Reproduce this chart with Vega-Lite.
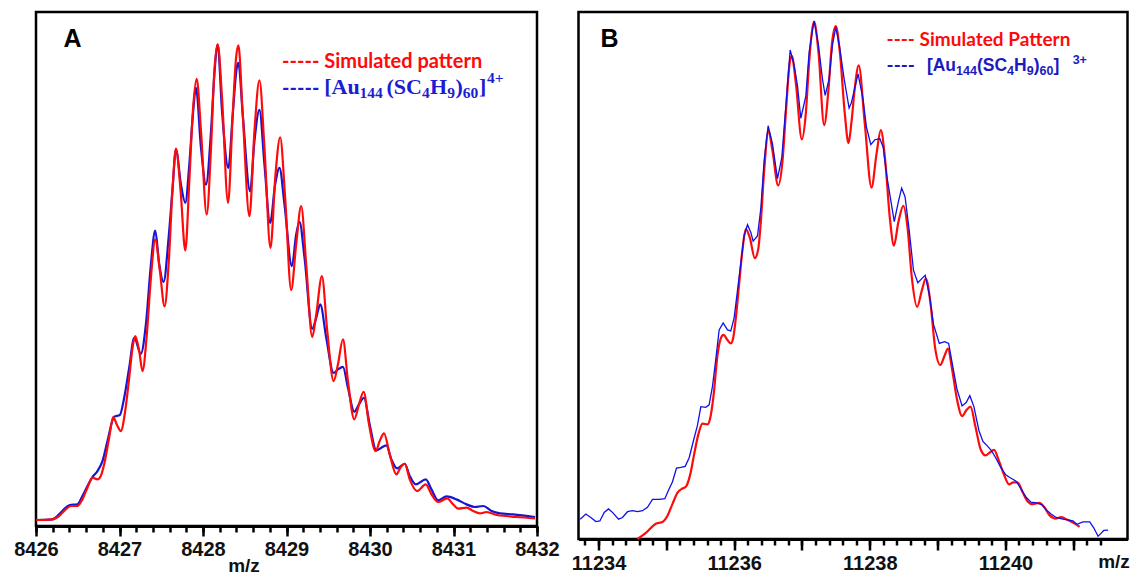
{
  "$schema": "https://vega.github.io/schema/vega-lite/v6.json",
  "background": "white",
  "padding": {"left": 12, "top": 10, "right": 2, "bottom": 2},
  "bounds": "flush",
  "spacing": 41.5,
  "config": {
    "view": {"stroke": "#000000", "strokeWidth": 2.5},
    "axis": {
      "labelFont": "Liberation Sans", "labelFontWeight": "bold", "labelFontSize": 20, "labelColor": "#111111",
      "domainColor": "#000000", "domainWidth": 3, "tickColor": "#000000", "tickWidth": 2.5, "grid": false,
      "titleFont": "Liberation Sans", "titleFontWeight": "bold", "titleFontSize": 19, "titleColor": "#111111",
      "labelFlush": false, "labelOverlap": false
    }
  },
  "datasets": {
    "A_sim": [
      {"mz":8426.0,"i":0},{"mz":8426.196,"i":0.14},{"mz":8426.276,"i":0.84},{"mz":8426.356,"i":2.24},{"mz":8426.416,"i":2.94},{"mz":8426.496,"i":2.94},{"mz":8426.556,"i":4.34},{"mz":8426.616,"i":6.79},{"mz":8426.676,"i":8.89},{"mz":8426.736,"i":8.54},{"mz":8426.776,"i":9.24},{"mz":8426.816,"i":11.69},{"mz":8426.876,"i":17.3},{"mz":8426.924,"i":21.64},{"mz":8426.976,"i":19.75},{"mz":8427.016,"i":18.7},{"mz":8427.068,"i":22.9},{"mz":8427.116,"i":29.9},{"mz":8427.156,"i":36.2},{"mz":8427.188,"i":38.66},{"mz":8427.236,"i":35.5},{"mz":8427.276,"i":31.3},{"mz":8427.324,"i":38.31},{"mz":8427.376,"i":50.91},{"mz":8427.428,"i":58.96},{"mz":8427.484,"i":52.31},{"mz":8427.54,"i":44.89},{"mz":8427.588,"i":53.71},{"mz":8427.636,"i":69.82},{"mz":8427.676,"i":78.08},{"mz":8427.732,"i":69.12},{"mz":8427.788,"i":56.65},{"mz":8427.836,"i":71.22},{"mz":8427.876,"i":85.22},{"mz":8427.924,"i":92.72},{"mz":8427.976,"i":81.72},{"mz":8428.044,"i":64.22},{"mz":8428.096,"i":78.22},{"mz":8428.136,"i":94.33},{"mz":8428.176,"i":100.0},{"mz":8428.228,"i":88.73},{"mz":8428.3,"i":66.67},{"mz":8428.356,"i":85.22},{"mz":8428.396,"i":97.13},{"mz":8428.424,"i":99.79},{"mz":8428.476,"i":85.22},{"mz":8428.556,"i":63.87},{"mz":8428.616,"i":81.72},{"mz":8428.676,"i":92.44},{"mz":8428.736,"i":78.22},{"mz":8428.808,"i":57.21},{"mz":8428.868,"i":72.62},{"mz":8428.924,"i":80.46},{"mz":8428.984,"i":67.72},{"mz":8429.056,"i":48.32},{"mz":8429.116,"i":58.0},{"mz":8429.176,"i":65.97},{"mz":8429.236,"i":53.71},{"mz":8429.308,"i":38.45},{"mz":8429.356,"i":43.21},{"mz":8429.424,"i":51.26},{"mz":8429.488,"i":39.71},{"mz":8429.564,"i":29.2},{"mz":8429.616,"i":32.7},{"mz":8429.676,"i":37.96},{"mz":8429.736,"i":29.2},{"mz":8429.812,"i":21.15},{"mz":8429.868,"i":24.3},{"mz":8429.924,"i":26.96},{"mz":8429.988,"i":20.1},{"mz":8430.068,"i":14.5},{"mz":8430.116,"i":16.6},{"mz":8430.168,"i":18.21},{"mz":8430.236,"i":13.8},{"mz":8430.316,"i":9.59},{"mz":8430.364,"i":10.99},{"mz":8430.416,"i":11.83},{"mz":8430.476,"i":8.54},{"mz":8430.564,"i":6.09},{"mz":8430.668,"i":7.49},{"mz":8430.736,"i":5.39},{"mz":8430.816,"i":3.78},{"mz":8430.924,"i":4.55},{"mz":8430.996,"i":3.29},{"mz":8431.056,"i":2.38},{"mz":8431.156,"i":2.59},{"mz":8431.236,"i":1.89},{"mz":8431.316,"i":1.4},{"mz":8431.396,"i":1.68},{"mz":8431.516,"i":1.05},{"mz":8431.636,"i":0.84},{"mz":8431.756,"i":0.63},{"mz":8431.976,"i":0.35}
    ],
    "A_exp": [
      {"mz":8426.0,"i":0},{"mz":8426.196,"i":0.14},{"mz":8426.276,"i":1.19},{"mz":8426.356,"i":2.59},{"mz":8426.404,"i":3.15},{"mz":8426.496,"i":3.29},{"mz":8426.556,"i":5.04},{"mz":8426.616,"i":7.14},{"mz":8426.676,"i":9.03},{"mz":8426.736,"i":10.29},{"mz":8426.796,"i":12.39},{"mz":8426.856,"i":16.6},{"mz":8426.936,"i":21.71},{"mz":8427.004,"i":22.06},{"mz":8427.056,"i":25.7},{"mz":8427.116,"i":32.0},{"mz":8427.176,"i":38.31},{"mz":8427.256,"i":34.94},{"mz":8427.316,"i":41.11},{"mz":8427.376,"i":53.71},{"mz":8427.428,"i":60.85},{"mz":8427.476,"i":53.71},{"mz":8427.528,"i":50.07},{"mz":8427.588,"i":59.31},{"mz":8427.636,"i":69.82},{"mz":8427.676,"i":77.87},{"mz":8427.736,"i":70.52},{"mz":8427.788,"i":66.67},{"mz":8427.836,"i":74.72},{"mz":8427.876,"i":84.52},{"mz":8427.916,"i":90.83},{"mz":8427.976,"i":78.22},{"mz":8428.036,"i":70.52},{"mz":8428.096,"i":81.72},{"mz":8428.136,"i":93.63},{"mz":8428.176,"i":99.93},{"mz":8428.228,"i":85.92},{"mz":8428.304,"i":74.02},{"mz":8428.356,"i":85.22},{"mz":8428.404,"i":95.03},{"mz":8428.424,"i":96.08},{"mz":8428.476,"i":85.22},{"mz":8428.564,"i":69.12},{"mz":8428.616,"i":79.62},{"mz":8428.676,"i":86.2},{"mz":8428.736,"i":74.72},{"mz":8428.804,"i":62.46},{"mz":8428.864,"i":70.52},{"mz":8428.916,"i":74.02},{"mz":8428.976,"i":66.32},{"mz":8429.064,"i":53.36},{"mz":8429.116,"i":60.01},{"mz":8429.156,"i":62.68},{"mz":8429.216,"i":55.11},{"mz":8429.308,"i":40.2},{"mz":8429.356,"i":42.51},{"mz":8429.404,"i":45.31},{"mz":8429.476,"i":38.31},{"mz":8429.564,"i":30.95},{"mz":8429.616,"i":31.65},{"mz":8429.676,"i":32.21},{"mz":8429.736,"i":27.8},{"mz":8429.812,"i":22.76},{"mz":8429.868,"i":24.3},{"mz":8429.928,"i":25.7},{"mz":8429.996,"i":20.1},{"mz":8430.076,"i":14.64},{"mz":8430.136,"i":15.2},{"mz":8430.196,"i":15.69},{"mz":8430.256,"i":12.75},{"mz":8430.324,"i":10.85},{"mz":8430.416,"i":11.83},{"mz":8430.476,"i":9.24},{"mz":8430.548,"i":7.49},{"mz":8430.668,"i":8.54},{"mz":8430.736,"i":6.44},{"mz":8430.816,"i":4.13},{"mz":8430.916,"i":4.97},{"mz":8431.036,"i":4.34},{"mz":8431.156,"i":3.29},{"mz":8431.256,"i":2.73},{"mz":8431.356,"i":2.94},{"mz":8431.456,"i":1.89},{"mz":8431.556,"i":1.4},{"mz":8431.716,"i":1.19},{"mz":8431.976,"i":0.63}
    ],
    "B_sim": [
      {"mz":11234.575,"i":0},{"mz":11234.698,"i":1.19},{"mz":11234.845,"i":2.96},{"mz":11234.943,"i":3.29},{"mz":11235.017,"i":4.48},{"mz":11235.091,"i":6.79},{"mz":11235.165,"i":8.96},{"mz":11235.238,"i":9.75},{"mz":11235.287,"i":10.08},{"mz":11235.351,"i":12.38},{"mz":11235.41,"i":16.34},{"mz":11235.474,"i":20.29},{"mz":11235.533,"i":22.27},{"mz":11235.607,"i":22.13},{"mz":11235.646,"i":23.25},{"mz":11235.695,"i":27.54},{"mz":11235.754,"i":35.44},{"mz":11235.803,"i":38.74},{"mz":11235.843,"i":39.39},{"mz":11235.902,"i":38.41},{"mz":11235.951,"i":37.75},{"mz":11235.985,"i":38.74},{"mz":11236.025,"i":42.69},{"mz":11236.074,"i":49.28},{"mz":11236.123,"i":55.86},{"mz":11236.172,"i":59.82},{"mz":11236.231,"i":58.17},{"mz":11236.305,"i":54.22},{"mz":11236.354,"i":55.86},{"mz":11236.393,"i":61.13},{"mz":11236.442,"i":71.01},{"mz":11236.506,"i":78.79},{"mz":11236.565,"i":74.97},{"mz":11236.649,"i":68.25},{"mz":11236.713,"i":72.99},{"mz":11236.762,"i":82.21},{"mz":11236.821,"i":92.09},{"mz":11236.85,"i":93.28},{"mz":11236.909,"i":88.14},{"mz":11236.998,"i":77.14},{"mz":11237.057,"i":82.21},{"mz":11237.106,"i":92.09},{"mz":11237.179,"i":99.87},{"mz":11237.243,"i":94.07},{"mz":11237.327,"i":79.91},{"mz":11237.391,"i":86.82},{"mz":11237.44,"i":95.39},{"mz":11237.499,"i":99.01},{"mz":11237.558,"i":94.07},{"mz":11237.631,"i":82.21},{"mz":11237.686,"i":76.42},{"mz":11237.728,"i":80.24},{"mz":11237.777,"i":86.82},{"mz":11237.837,"i":91.44},{"mz":11237.926,"i":80.24},{"mz":11238.025,"i":67.85},{"mz":11238.099,"i":74.31},{"mz":11238.163,"i":78.92},{"mz":11238.223,"i":73.65},{"mz":11238.297,"i":61.79},{"mz":11238.356,"i":56.65},{"mz":11238.421,"i":61.13},{"mz":11238.495,"i":64.3},{"mz":11238.559,"i":59.82},{"mz":11238.619,"i":50.59},{"mz":11238.698,"i":44.8},{"mz":11238.767,"i":47.96},{"mz":11238.827,"i":50.26},{"mz":11238.891,"i":45.98},{"mz":11238.965,"i":36.76},{"mz":11239.04,"i":33.6},{"mz":11239.104,"i":35.44},{"mz":11239.153,"i":36.76},{"mz":11239.213,"i":32.81},{"mz":11239.287,"i":26.88},{"mz":11239.361,"i":23.72},{"mz":11239.426,"i":24.9},{"mz":11239.485,"i":25.56},{"mz":11239.559,"i":21.61},{"mz":11239.634,"i":17.33},{"mz":11239.708,"i":16.14},{"mz":11239.767,"i":16.67},{"mz":11239.832,"i":17.19},{"mz":11239.906,"i":15.02},{"mz":11239.98,"i":12.38},{"mz":11240.054,"i":10.54},{"mz":11240.114,"i":10.94},{"mz":11240.178,"i":10.94},{"mz":11240.252,"i":9.09},{"mz":11240.327,"i":7.25},{"mz":11240.401,"i":6.72},{"mz":11240.5,"i":6.98},{"mz":11240.574,"i":6.13},{"mz":11240.649,"i":4.61},{"mz":11240.748,"i":3.95},{"mz":11240.822,"i":4.22},{"mz":11240.896,"i":3.82},{"mz":11240.995,"i":3.16},{"mz":11241.094,"i":2.37}
    ],
    "B_exp": [
      {"mz":11233.73,"i":3.82},{"mz":11233.813,"i":4.81},{"mz":11233.887,"i":4.15},{"mz":11233.961,"i":3.36},{"mz":11234.02,"i":3.49},{"mz":11234.084,"i":5.14},{"mz":11234.147,"i":5.8},{"mz":11234.206,"i":5.14},{"mz":11234.295,"i":3.82},{"mz":11234.354,"i":4.15},{"mz":11234.428,"i":5.27},{"mz":11234.501,"i":5.47},{"mz":11234.575,"i":5.27},{"mz":11234.649,"i":5.47},{"mz":11234.722,"i":6.13},{"mz":11234.796,"i":7.64},{"mz":11234.894,"i":7.64},{"mz":11234.978,"i":7.77},{"mz":11235.032,"i":9.42},{"mz":11235.091,"i":11.07},{"mz":11235.15,"i":13.7},{"mz":11235.214,"i":13.83},{"mz":11235.278,"i":14.03},{"mz":11235.337,"i":15.68},{"mz":11235.4,"i":18.97},{"mz":11235.459,"i":21.94},{"mz":11235.509,"i":25.56},{"mz":11235.582,"i":25.43},{"mz":11235.631,"i":25.89},{"mz":11235.681,"i":29.51},{"mz":11235.73,"i":34.78},{"mz":11235.779,"i":40.38},{"mz":11235.838,"i":41.7},{"mz":11235.902,"i":40.38},{"mz":11235.951,"i":40.18},{"mz":11236.0,"i":42.69},{"mz":11236.049,"i":47.96},{"mz":11236.098,"i":53.23},{"mz":11236.147,"i":58.5},{"mz":11236.197,"i":60.67},{"mz":11236.246,"i":59.16},{"mz":11236.28,"i":57.51},{"mz":11236.344,"i":58.5},{"mz":11236.393,"i":63.77},{"mz":11236.442,"i":72.99},{"mz":11236.501,"i":79.78},{"mz":11236.565,"i":76.28},{"mz":11236.639,"i":69.57},{"mz":11236.703,"i":73.65},{"mz":11236.762,"i":83.53},{"mz":11236.826,"i":94.4},{"mz":11236.885,"i":91.44},{"mz":11236.934,"i":87.48},{"mz":11236.983,"i":81.23},{"mz":11237.057,"i":85.51},{"mz":11237.106,"i":94.07},{"mz":11237.179,"i":100.0},{"mz":11237.243,"i":95.39},{"mz":11237.302,"i":88.8},{"mz":11237.342,"i":85.64},{"mz":11237.4,"i":88.8},{"mz":11237.45,"i":95.39},{"mz":11237.499,"i":98.81},{"mz":11237.558,"i":94.73},{"mz":11237.622,"i":88.8},{"mz":11237.695,"i":83.2},{"mz":11237.728,"i":84.19},{"mz":11237.827,"i":89.79},{"mz":11237.901,"i":84.85},{"mz":11237.95,"i":79.58},{"mz":11238.015,"i":76.15},{"mz":11238.074,"i":77.08},{"mz":11238.149,"i":77.27},{"mz":11238.198,"i":75.63},{"mz":11238.248,"i":70.36},{"mz":11238.297,"i":66.4},{"mz":11238.361,"i":61.26},{"mz":11238.421,"i":65.09},{"mz":11238.47,"i":67.72},{"mz":11238.52,"i":66.07},{"mz":11238.579,"i":59.82},{"mz":11238.644,"i":51.91},{"mz":11238.708,"i":49.47},{"mz":11238.767,"i":50.26},{"mz":11238.817,"i":50.92},{"mz":11238.876,"i":47.3},{"mz":11238.941,"i":41.37},{"mz":11239.025,"i":37.75},{"mz":11239.104,"i":38.08},{"mz":11239.163,"i":37.75},{"mz":11239.213,"i":34.12},{"mz":11239.287,"i":28.85},{"mz":11239.361,"i":25.69},{"mz":11239.421,"i":26.35},{"mz":11239.475,"i":27.67},{"mz":11239.535,"i":25.56},{"mz":11239.609,"i":20.95},{"mz":11239.668,"i":18.84},{"mz":11239.733,"i":17.98},{"mz":11239.797,"i":17.0},{"mz":11239.856,"i":15.68},{"mz":11239.931,"i":13.83},{"mz":11240.005,"i":12.38},{"mz":11240.064,"i":11.86},{"mz":11240.153,"i":11.2},{"mz":11240.228,"i":9.75},{"mz":11240.302,"i":8.1},{"mz":11240.376,"i":7.11},{"mz":11240.46,"i":6.98},{"mz":11240.54,"i":6.59},{"mz":11240.599,"i":5.67},{"mz":11240.673,"i":4.81},{"mz":11240.748,"i":4.15},{"mz":11240.847,"i":3.82},{"mz":11240.921,"i":3.69},{"mz":11240.995,"i":3.49},{"mz":11241.054,"i":2.83},{"mz":11241.144,"i":3.29},{"mz":11241.243,"i":3.29},{"mz":11241.302,"i":2.17},{"mz":11241.366,"i":0.53},{"mz":11241.416,"i":1.19},{"mz":11241.45,"i":1.65},{"mz":11241.515,"i":1.71}
    ]
  },
  "hconcat": [
    {
      "width": 501,
      "height": 514,
      "resolve": {"axis": {"x": "independent"}},
      "layer": [
        {
          "data": {"name": "A_exp"},
          "mark": {"type": "line", "color": "#1414d2", "strokeWidth": 2.2, "interpolate": "monotone"},
          "encoding": {
            "x": {"field": "mz", "type": "quantitative", "scale": {"domain": [8426, 8432], "nice": false, "zero": false},
              "axis": {"orient": "bottom", "values": [8426,8426.2,8426.4,8426.6,8426.8,8427,8427.2,8427.4,8427.6,8427.8,8428,8428.2,8428.4,8428.6,8428.8,8429,8429.2,8429.4,8429.6,8429.8,8430,8430.2,8430.4,8430.6,8430.8,8431,8431.2,8431.4,8431.6,8431.8,8432], "labels": false, "tickSize": 6, "title": null}},
            "y": {"field": "i", "type": "quantitative", "scale": {"domain": [-1.26, 106.79], "nice": false, "zero": false}, "axis": null}
          }
        },
        {
          "data": {"name": "A_sim"},
          "mark": {"type": "line", "color": "#ff0a0a", "strokeWidth": 2.2, "interpolate": "monotone"},
          "encoding": {
            "x": {"field": "mz", "type": "quantitative",
              "axis": {"orient": "bottom", "values": [8426,8427,8428,8429,8430,8431,8432], "format": "d", "tickSize": 10, "labelPadding": 3, "title": "m/z", "titleX": 207.5, "titleY": 39, "titleBaseline": "middle", "titleAlign": "center", "titleAnchor": null}},
            "y": {"field": "i", "type": "quantitative", "axis": null}
          }
        },
        {
          "data": {"values": [{}]},
          "mark": {"type": "text", "text": "A", "font": "Liberation Sans", "fontWeight": "bold", "fontSize": 25, "align": "center", "baseline": "middle", "color": "#000000"},
          "encoding": {"x": {"datum": 8426.437, "type": "quantitative", "axis": null}, "y": {"datum": 101.1, "type": "quantitative", "axis": null}}
        },
        {
          "data": {"values": [{}]},
          "mark": {"type": "text", "text": "----- Simulated pattern", "font": "Lato", "fontWeight": "bold", "fontSize": 20, "align": "left", "baseline": "middle", "color": "#ff0a0a"},
          "encoding": {"x": {"datum": 8428.947, "type": "quantitative", "axis": null}, "y": {"datum": 96.28, "type": "quantitative", "axis": null}}
        },
        {
          "data": {"values": [{}]},
          "mark": {"type": "text", "text": "-----", "font": "Lato", "fontWeight": "bold", "fontSize": 20, "align": "left", "baseline": "middle", "color": "#1c1cd4"},
          "encoding": {"x": {"datum": 8428.947, "type": "quantitative", "axis": null}, "y": {"datum": 90.66, "type": "quantitative", "axis": null}}
        },
        {
          "data": {"values": [{}]},
          "mark": {"type": "text", "text": "[Au", "font": "Liberation Serif", "fontWeight": "bold", "fontSize": 22, "align": "left", "baseline": "alphabetic", "color": "#1c1cd4"},
          "encoding": {"x": {"datum": 8429.4515, "type": "quantitative", "axis": null}, "y": {"datum": 89.49, "type": "quantitative", "axis": null}}
        },
        {
          "data": {"values": [{}]},
          "mark": {"type": "text", "text": "144", "font": "Liberation Serif", "fontWeight": "bold", "fontSize": 15.5, "align": "left", "baseline": "alphabetic", "color": "#1c1cd4"},
          "encoding": {"x": {"datum": 8429.8754, "type": "quantitative", "axis": null}, "y": {"datum": 88.78, "type": "quantitative", "axis": null}}
        },
        {
          "data": {"values": [{}]},
          "mark": {"type": "text", "text": "(SC", "font": "Liberation Serif", "fontWeight": "bold", "fontSize": 22, "align": "left", "baseline": "alphabetic", "color": "#1c1cd4"},
          "encoding": {"x": {"datum": 8430.1976, "type": "quantitative", "axis": null}, "y": {"datum": 89.49, "type": "quantitative", "axis": null}}
        },
        {
          "data": {"values": [{}]},
          "mark": {"type": "text", "text": "4", "font": "Liberation Serif", "fontWeight": "bold", "fontSize": 15.5, "align": "left", "baseline": "alphabetic", "color": "#1c1cd4"},
          "encoding": {"x": {"datum": 8430.6216, "type": "quantitative", "axis": null}, "y": {"datum": 88.78, "type": "quantitative", "axis": null}}
        },
        {
          "data": {"values": [{}]},
          "mark": {"type": "text", "text": "H", "font": "Liberation Serif", "fontWeight": "bold", "fontSize": 22, "align": "left", "baseline": "alphabetic", "color": "#1c1cd4"},
          "encoding": {"x": {"datum": 8430.7198, "type": "quantitative", "axis": null}, "y": {"datum": 89.49, "type": "quantitative", "axis": null}}
        },
        {
          "data": {"values": [{}]},
          "mark": {"type": "text", "text": "9", "font": "Liberation Serif", "fontWeight": "bold", "fontSize": 15.5, "align": "left", "baseline": "alphabetic", "color": "#1c1cd4"},
          "encoding": {"x": {"datum": 8430.9246, "type": "quantitative", "axis": null}, "y": {"datum": 88.78, "type": "quantitative", "axis": null}}
        },
        {
          "data": {"values": [{}]},
          "mark": {"type": "text", "text": ")", "font": "Liberation Serif", "fontWeight": "bold", "fontSize": 22, "align": "left", "baseline": "alphabetic", "color": "#1c1cd4"},
          "encoding": {"x": {"datum": 8431.024, "type": "quantitative", "axis": null}, "y": {"datum": 89.49, "type": "quantitative", "axis": null}}
        },
        {
          "data": {"values": [{}]},
          "mark": {"type": "text", "text": "60", "font": "Liberation Serif", "fontWeight": "bold", "fontSize": 15.5, "align": "left", "baseline": "alphabetic", "color": "#1c1cd4"},
          "encoding": {"x": {"datum": 8431.1114, "type": "quantitative", "axis": null}, "y": {"datum": 88.78, "type": "quantitative", "axis": null}}
        },
        {
          "data": {"values": [{}]},
          "mark": {"type": "text", "text": "]", "font": "Liberation Serif", "fontWeight": "bold", "fontSize": 22, "align": "left", "baseline": "alphabetic", "color": "#1c1cd4"},
          "encoding": {"x": {"datum": 8431.3054, "type": "quantitative", "axis": null}, "y": {"datum": 89.49, "type": "quantitative", "axis": null}}
        },
        {
          "data": {"values": [{}]},
          "mark": {"type": "text", "text": "4+", "font": "Liberation Serif", "fontWeight": "bold", "fontSize": 15.5, "align": "left", "baseline": "alphabetic", "color": "#1c1cd4"},
          "encoding": {"x": {"datum": 8431.4012, "type": "quantitative", "axis": null}, "y": {"datum": 91.8, "type": "quantitative", "axis": null}}
        }
      ]
    },
    {
      "width": 549,
      "height": 527,
      "resolve": {"axis": {"x": "independent"}},
      "layer": [
        {
          "data": {"name": "B_sim"},
          "mark": {"type": "line", "color": "#ff0a0a", "strokeWidth": 2.2, "interpolate": "monotone"},
          "encoding": {
            "x": {"field": "mz", "type": "quantitative", "scale": {"domain": [11233.705, 11241.8], "nice": false, "zero": false},
              "axis": {"orient": "bottom", "values": [11233.8,11234,11234.2,11234.4,11234.6,11234.8,11235,11235.2,11235.4,11235.6,11235.8,11236,11236.2,11236.4,11236.6,11236.8,11237,11237.2,11237.4,11237.6,11237.8,11238,11238.2,11238.4,11238.6,11238.8,11239,11239.2,11239.4,11239.6,11239.8,11240,11240.2,11240.4,11240.6,11240.8,11241,11241.2,11241.4], "labels": false, "tickSize": 6, "title": null}},
            "y": {"field": "i", "type": "quantitative", "scale": {"domain": [0, 101.74], "nice": false, "zero": false}, "axis": null}
          }
        },
        {
          "data": {"name": "B_exp"},
          "mark": {"type": "line", "color": "#1010e6", "strokeWidth": 1.3},
          "encoding": {
            "x": {"field": "mz", "type": "quantitative",
              "axis": {"orient": "bottom", "values": [11234,11235,11236,11237,11238,11239,11240,11241], "format": "d", "labelExpr": "datum.value % 2 === 0 ? datum.label : ''", "tickSize": 11, "labelPadding": 3, "title": "m/z", "titleX": 535, "titleY": 22, "titleBaseline": "middle", "titleAlign": "center", "titleAnchor": null}},
            "y": {"field": "i", "type": "quantitative", "axis": null}
          }
        },
        {
          "data": {"values": [{}]},
          "mark": {"type": "text", "text": "B", "font": "Liberation Sans", "fontWeight": "bold", "fontSize": 25, "align": "center", "baseline": "middle", "color": "#000000"},
          "encoding": {"x": {"datum": 11234.162, "type": "quantitative", "axis": null}, "y": {"datum": 96.53, "type": "quantitative", "axis": null}}
        },
        {
          "data": {"values": [{}]},
          "mark": {"type": "text", "text": "---- Simulated Pattern", "font": "Lato", "fontWeight": "bold", "fontSize": 19, "align": "left", "baseline": "middle", "color": "#ff0a0a"},
          "encoding": {"x": {"datum": 11238.248, "type": "quantitative", "axis": null}, "y": {"datum": 96.27, "type": "quantitative", "axis": null}}
        },
        {
          "data": {"values": [{}]},
          "mark": {"type": "text", "text": "----", "font": "Lato", "fontWeight": "bold", "fontSize": 19, "align": "left", "baseline": "middle", "color": "#1a1ac0"},
          "encoding": {"x": {"datum": 11238.248, "type": "quantitative", "axis": null}, "y": {"datum": 91.37, "type": "quantitative", "axis": null}}
        },
        {
          "data": {"values": [{}]},
          "mark": {"type": "text", "text": "[Au", "font": "Liberation Sans", "fontWeight": "bold", "fontSize": 17.5, "align": "left", "baseline": "alphabetic", "color": "#1a1ac0"},
          "encoding": {"x": {"datum": 11238.842, "type": "quantitative", "axis": null}, "y": {"datum": 90.29, "type": "quantitative", "axis": null}}
        },
        {
          "data": {"values": [{}]},
          "mark": {"type": "text", "text": "144", "font": "Liberation Sans", "fontWeight": "bold", "fontSize": 12.5, "align": "left", "baseline": "alphabetic", "color": "#1a1ac0"},
          "encoding": {"x": {"datum": 11239.273, "type": "quantitative", "axis": null}, "y": {"datum": 89.63, "type": "quantitative", "axis": null}}
        },
        {
          "data": {"values": [{}]},
          "mark": {"type": "text", "text": "(SC", "font": "Liberation Sans", "fontWeight": "bold", "fontSize": 17.5, "align": "left", "baseline": "alphabetic", "color": "#1a1ac0"},
          "encoding": {"x": {"datum": 11239.581, "type": "quantitative", "axis": null}, "y": {"datum": 90.29, "type": "quantitative", "axis": null}}
        },
        {
          "data": {"values": [{}]},
          "mark": {"type": "text", "text": "4", "font": "Liberation Sans", "fontWeight": "bold", "fontSize": 12.5, "align": "left", "baseline": "alphabetic", "color": "#1a1ac0"},
          "encoding": {"x": {"datum": 11240.025, "type": "quantitative", "axis": null}, "y": {"datum": 89.63, "type": "quantitative", "axis": null}}
        },
        {
          "data": {"values": [{}]},
          "mark": {"type": "text", "text": "H", "font": "Liberation Sans", "fontWeight": "bold", "fontSize": 17.5, "align": "left", "baseline": "alphabetic", "color": "#1a1ac0"},
          "encoding": {"x": {"datum": 11240.128, "type": "quantitative", "axis": null}, "y": {"datum": 90.29, "type": "quantitative", "axis": null}}
        },
        {
          "data": {"values": [{}]},
          "mark": {"type": "text", "text": "9", "font": "Liberation Sans", "fontWeight": "bold", "fontSize": 12.5, "align": "left", "baseline": "alphabetic", "color": "#1a1ac0"},
          "encoding": {"x": {"datum": 11240.314, "type": "quantitative", "axis": null}, "y": {"datum": 89.63, "type": "quantitative", "axis": null}}
        },
        {
          "data": {"values": [{}]},
          "mark": {"type": "text", "text": ")", "font": "Liberation Sans", "fontWeight": "bold", "fontSize": 17.5, "align": "left", "baseline": "alphabetic", "color": "#1a1ac0"},
          "encoding": {"x": {"datum": 11240.417, "type": "quantitative", "axis": null}, "y": {"datum": 90.29, "type": "quantitative", "axis": null}}
        },
        {
          "data": {"values": [{}]},
          "mark": {"type": "text", "text": "60", "font": "Liberation Sans", "fontWeight": "bold", "fontSize": 12.5, "align": "left", "baseline": "alphabetic", "color": "#1a1ac0"},
          "encoding": {"x": {"datum": 11240.503, "type": "quantitative", "axis": null}, "y": {"datum": 89.63, "type": "quantitative", "axis": null}}
        },
        {
          "data": {"values": [{}]},
          "mark": {"type": "text", "text": "]", "font": "Liberation Sans", "fontWeight": "bold", "fontSize": 17.5, "align": "left", "baseline": "alphabetic", "color": "#1a1ac0"},
          "encoding": {"x": {"datum": 11240.708, "type": "quantitative", "axis": null}, "y": {"datum": 90.29, "type": "quantitative", "axis": null}}
        },
        {
          "data": {"values": [{}]},
          "mark": {"type": "text", "text": "3+", "font": "Liberation Sans", "fontWeight": "bold", "fontSize": 12.5, "align": "left", "baseline": "alphabetic", "color": "#1a1ac0"},
          "encoding": {"x": {"datum": 11240.991, "type": "quantitative", "axis": null}, "y": {"datum": 91.76, "type": "quantitative", "axis": null}}
        }
      ]
    }
  ]
}
